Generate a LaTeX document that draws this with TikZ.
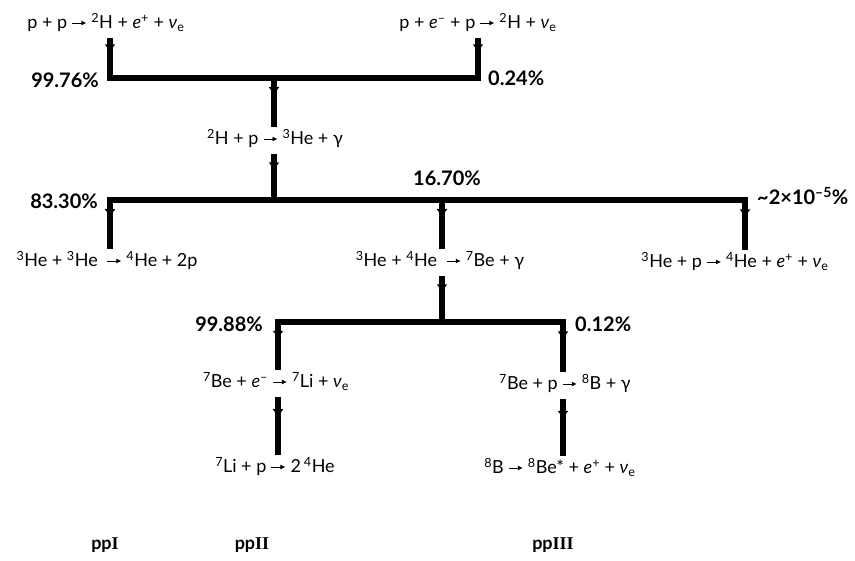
\documentclass[tikz,border=0pt]{standalone}
\usepackage{fontspec}
\setmainfont{Lato}
\newfontfamily\romfont{Liberation Serif}
\usetikzlibrary{arrows.meta,decorations.markings}

% reaction arrow, drawn once and reused
\newsavebox{\reactarrow}
\sbox{\reactarrow}{\tikz[baseline=-6pt]\draw[line width=0.9pt,
  -{Latex[length=5pt,width=5pt]}] (0,0) -- (14pt,0);}

% nuclide with mass number, electron/positron, electron neutrino
\newcommand{\nuc}[2]{\textsuperscript{#1}#2}
\newcommand{\el}[1]{\textit{e}\textsuperscript{#1}}
\newcommand{\nue}{\textit{ν}\textsubscript{e}}
\newcommand{\ra}{\usebox{\reactarrow}}
\newcommand{\chainname}[1]{pp{\romfont\bfseries #1}}

\tikzset{
  rxn/.style={font=\fontsize{18}{21}\selectfont, anchor=base,
    inner xsep=0pt, inner ysep=5pt, text height=13pt, text depth=4pt},
  pct/.style={font=\fontsize{20}{24}\selectfont\bfseries, inner sep=0pt},
  chainlbl/.style={font=\fontsize{18}{22}\selectfont\bfseries, inner sep=0pt},
  bar/.style={line width=5.5pt, line cap=rect},
  feed/.style={line width=5.5pt,
    postaction={decorate, decoration={markings,
      mark=at position 0.33 with {\arrow{Triangle[length=7pt,width=10pt]}}}}},
}

\begin{document}
\begin{tikzpicture}[x=1pt,y=-1pt]
\useasboundingbox (0,0) rectangle (855,561);

% reactions
\node[rxn] (r1)  at (106,29)  {p + p \ra\ \nuc{2}{H} + \el{+} + \nue};
\node[rxn] (r2)  at (478,29)  {p + \el{–} + p \ra\ \nuc{2}{H} + \nue};
\node[rxn] (r3)  at (275,145) {\nuc{2}{H} + p \ra\ \nuc{3}{He} + γ};
\node[rxn] (r4)  at (107,267) {\nuc{3}{He} + \nuc{3}{He}\ \ \ra\ \nuc{4}{He} + 2p};
\node[rxn] (r5)  at (440,267) {\nuc{3}{He} + \nuc{4}{He}\ \ \ra\ \nuc{7}{Be} + γ};
\node[rxn] (r6)  at (735,268) {\nuc{3}{He} + p \ra\ \nuc{4}{He} + \el{+} + \nue};
\node[rxn] (r7)  at (276,388) {\nuc{7}{Be} + \el{–} \ra\ \nuc{7}{Li} + \nue};
\node[rxn] (r8)  at (565,390) {\nuc{7}{Be} + p \ra\ \nuc{8}{B} + γ};
\node[rxn] (r9)  at (275,473) {\nuc{7}{Li} + p \ra\ 2\,\nuc{4}{He}};
\node[rxn] (r10) at (560,474) {\nuc{8}{B} \ra\ \nuc{8}{Be*} + \el{+} + \nue};

% branch points
\coordinate (b1l) at (110,78);
\coordinate (b1m) at (274,78);
\coordinate (b1r) at (478,78);
\coordinate (b2l) at (110,200);
\coordinate (b2m) at (274,200);
\coordinate (b2c) at (442,200);
\coordinate (b2r) at (745,200);
\coordinate (b3l) at (278,322);
\coordinate (b3m) at (442,322);
\coordinate (b3r) at (563,322);

% branching ratios
\node[pct, anchor=east] (p1) at (99,80)   {99.76\%};
\node[pct, anchor=west] (p2) at (488,78)  {0.24\%};
\node[pct, anchor=east] (p3) at (98,201)  {83.30\%};
\node[pct]              (p4) at (447,178) {16.70\%};
\node[pct, anchor=west] (p5) at (757,196) {\textasciitilde2×10\textsuperscript{–5}\%};
\node[pct, anchor=east] (p6) at (263,324) {99.88\%};
\node[pct, anchor=west] (p7) at (575,324) {0.12\%};

% chain names
\node[chainlbl] (c1) at (105,545) {\chainname{I}};
\node[chainlbl] (c2) at (252,545) {\chainname{II}};
\node[chainlbl] (c3) at (553,545) {\chainname{III}};

% connectors
\draw[feed] (r1.south -| b1l) -- (b1l);
\draw[feed] (r2.south -| b1r) -- (b1r);
\draw[bar] (b1l) -- (b1r);
\draw[feed] (b1m) -- (b1m |- r3.north);

\draw[feed] (r3.south -| b2m) -- (b2m);
\draw[bar] (b2l) -- (b2r);
\draw[feed] (b2l) -- (b2l |- r4.north);
\draw[feed] (b2c) -- (b2c |- r5.north);
\draw[feed] (b2r) -- (b2r |- r6.north);

\draw[feed] (r5.south -| b3m) -- (b3m);
\draw[bar] (b3l) -- (b3r);
\draw[feed] (b3l) -- (b3l |- r7.north);
\draw[feed] (b3r) -- (b3r |- r8.north);
\draw[feed] (r7.south -| b3l) -- (b3l |- r9.north);
\draw[feed] (r8.south -| b3r) -- (b3r |- r10.north);
\end{tikzpicture}
\end{document}
